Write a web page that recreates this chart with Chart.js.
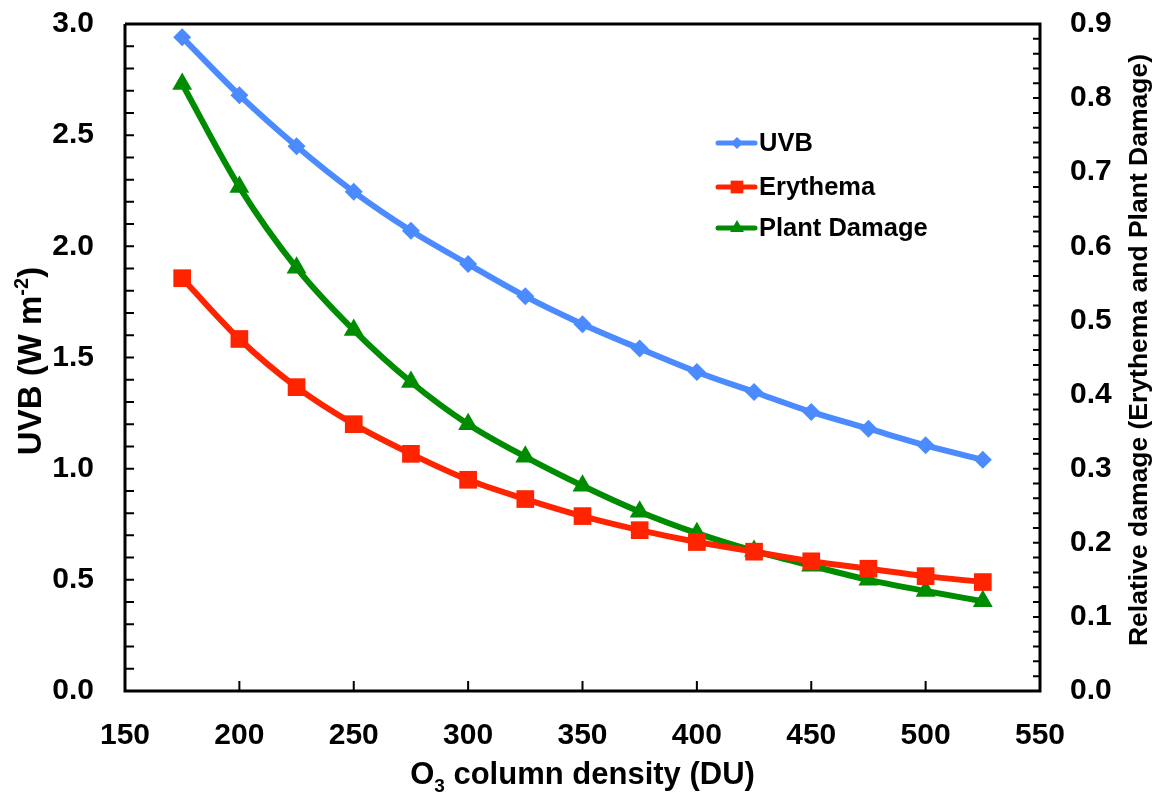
<!DOCTYPE html>
<html>
<head>
<meta charset="utf-8">
<script src="https://cdn.jsdelivr.net/npm/chart.js@4"></script>
<style>
  html, body { margin: 0; padding: 0; background: #fff; }
  #wrap { width: 1154px; height: 798px; }
</style>
</head>
<body>
<div id="wrap"><canvas id="chart" width="1154" height="798"></canvas></div>
<script>
// UVB and relative damage vs ozone column

const ozone = [175, 200, 225, 250, 275, 300, 325, 350, 375, 400, 425, 450, 475, 500, 525];
const uvb = [2.94, 2.68, 2.45, 2.245, 2.07, 1.92, 1.775, 1.65, 1.54, 1.435, 1.345, 1.255, 1.18, 1.105, 1.04];
const erythema = [0.557, 0.475, 0.41, 0.36, 0.32, 0.285, 0.259, 0.236, 0.217, 0.201, 0.188, 0.175, 0.165, 0.155, 0.147];
const plantDamage = [0.819, 0.68, 0.571, 0.487, 0.417, 0.36, 0.316, 0.277, 0.242, 0.213, 0.189, 0.169, 0.15, 0.135, 0.121];

const xTicks = [150, 200, 250, 300, 350, 400, 450, 500, 550];
const leftTicks = [0, 0.5, 1.0, 1.5, 2.0, 2.5, 3.0];
const rightTicks = [0, 0.1, 0.2, 0.3, 0.4, 0.5, 0.6, 0.7, 0.8, 0.9];

const FONT = "'Liberation Sans', Arial, Helvetica, sans-serif";
const BLUE = '#4b8bff';
const RED = '#ff2400';
const GREEN = '#008c00';

const pts = (ys) => ozone.map((x, i) => ({ x, y: ys[i] }));

// frame + inward ticks
const framePlugin = {
  id: 'frame',
  afterDatasetsDraw(chart) {
    const { ctx, chartArea: a, scales } = chart;
    ctx.save();
    ctx.strokeStyle = '#000';
    ctx.lineWidth = 3;
    ctx.beginPath();
    ctx.moveTo(a.left, a.top); ctx.lineTo(a.left, a.bottom); ctx.lineTo(a.right, a.bottom);
    ctx.lineTo(a.right, a.top); ctx.lineTo(a.left, a.top);
    ctx.stroke();

    ctx.lineWidth = 2;
    ctx.beginPath();
    for (let v = 0; v <= 30; v++) {
      const y = scales.y.getPixelForValue(v / 10);
      ctx.moveTo(a.left, y); ctx.lineTo(a.left + 9, y);
    }
    for (let v = 0; v <= 45; v++) {
      const y = scales.y2.getPixelForValue(v / 50);
      ctx.moveTo(a.right, y); ctx.lineTo(a.right - 7, y);
    }
    for (const t of xTicks) {
      const x = scales.x.getPixelForValue(t);
      ctx.moveTo(x, a.bottom); ctx.lineTo(x, a.bottom - 10);
    }
    ctx.stroke();
    ctx.restore();
  }
};

// draws a line of text with sub/superscript parts, centred on (cx, cy)
function richText(ctx, parts, cx, cy, rot) {
  ctx.save();
  ctx.translate(cx, cy);
  ctx.rotate(rot);
  ctx.fillStyle = '#000';
  ctx.textBaseline = 'alphabetic';
  let total = 0;
  for (const p of parts) { ctx.font = `bold ${p.size}px ${FONT}`; p.w = ctx.measureText(p.t).width; total += p.w; }
  let x = -total / 2;
  for (const p of parts) {
    ctx.font = `bold ${p.size}px ${FONT}`;
    ctx.fillText(p.t, x, p.dy || 0);
    x += p.w;
  }
  ctx.restore();
}

const titlesPlugin = {
  id: 'titles',
  afterDraw(chart) {
    const { ctx, chartArea: a } = chart;
    richText(ctx, [
      { t: 'UVB (W m', size: 33 },
      { t: '-2', size: 20, dy: -13 },
      { t: ')', size: 33 }
    ], 41, 361, -Math.PI / 2);
    richText(ctx, [
      { t: 'Relative damage (Erythema and Plant Damage)', size: 26.5 }
    ], 1147, 350, -Math.PI / 2);
    richText(ctx, [
      { t: 'O', size: 31 },
      { t: '3', size: 19, dy: 8 },
      { t: ' column density (DU)', size: 31 }
    ], (a.left + a.right) / 2, 784, 0);

    // legend
    const items = chart.data.datasets;
    const rows = [143, 187, 228];
    items.forEach((ds, i) => {
      const y = rows[i];
      ctx.save();
      ctx.strokeStyle = ds.borderColor;
      ctx.lineWidth = 5;
      ctx.lineCap = 'round';
      ctx.beginPath(); ctx.moveTo(718, y); ctx.lineTo(755, y); ctx.stroke();
      ctx.fillStyle = ds.backgroundColor;
      Chart.helpers.drawPoint(ctx, { pointStyle: ds.pointStyle, radius: ds.legendRadius, borderWidth: 0 }, 737, y);
      ctx.fillStyle = '#000';
      ctx.font = `bold 25.5px ${FONT}`;
      ctx.textBaseline = 'middle';
      ctx.fillText(ds.label, 759, y + 1);
      ctx.restore();
    });
  }
};

const tickFont = { family: FONT, size: 30, weight: 'bold' };
const noPad = s => { s.paddingTop = 0; s.paddingBottom = 0; s.paddingLeft = 0; s.paddingRight = 0; };

new Chart(document.getElementById('chart'), {
  type: 'line',
  data: {
    datasets: [
      { label: 'UVB', data: pts(uvb), yAxisID: 'y', borderColor: BLUE, backgroundColor: BLUE,
        pointStyle: 'rectRot', pointRadius: 9, legendRadius: 6 },
      { label: 'Erythema', data: pts(erythema), yAxisID: 'y2', borderColor: RED, backgroundColor: RED,
        pointStyle: 'rect', pointRadius: 12.5, legendRadius: 9 },
      { label: 'Plant Damage', data: pts(plantDamage), yAxisID: 'y2', borderColor: GREEN, backgroundColor: GREEN,
        pointStyle: 'triangle', pointRadius: 11.5, legendRadius: 8 },
    ].map(d => ({ ...d, borderWidth: 6, pointBorderWidth: 0, cubicInterpolationMode: 'monotone', fill: false }))
  },
  options: {
    responsive: false,
    animation: false,
    layout: { padding: { top: 24, left: 0, right: 0, bottom: 0 } },
    plugins: { legend: { display: false }, tooltip: { enabled: false } },
    scales: {
      x: {
        type: 'linear', min: 150, max: 550,
        afterBuildTicks: s => { s.ticks = xTicks.map(v => ({ value: v })); },
        afterFit: s => { s.height = 107; noPad(s); },
        grid: { display: false, drawTicks: false }, border: { display: false },
        ticks: { color: '#000', font: tickFont, padding: 27, maxRotation: 0 }
      },
      y: {
        position: 'left', min: 0, max: 3,
        afterBuildTicks: s => { s.ticks = leftTicks.map(v => ({ value: v })); },
        afterFit: s => { s.width = 125; noPad(s); },
        grid: { display: false, drawTicks: false }, border: { display: false },
        ticks: { color: '#000', font: tickFont, padding: 31, callback: v => v.toFixed(1) }
      },
      y2: {
        position: 'right', min: 0, max: 0.9,
        afterBuildTicks: s => { s.ticks = rightTicks.map(v => ({ value: v })); },
        afterFit: s => { s.width = 114; noPad(s); },
        grid: { display: false, drawTicks: false }, border: { display: false },
        ticks: { color: '#000', font: tickFont, padding: 30, callback: v => v.toFixed(1) }
      }
    }
  },
  plugins: [framePlugin, titlesPlugin]
});
</script>
</body>
</html>
